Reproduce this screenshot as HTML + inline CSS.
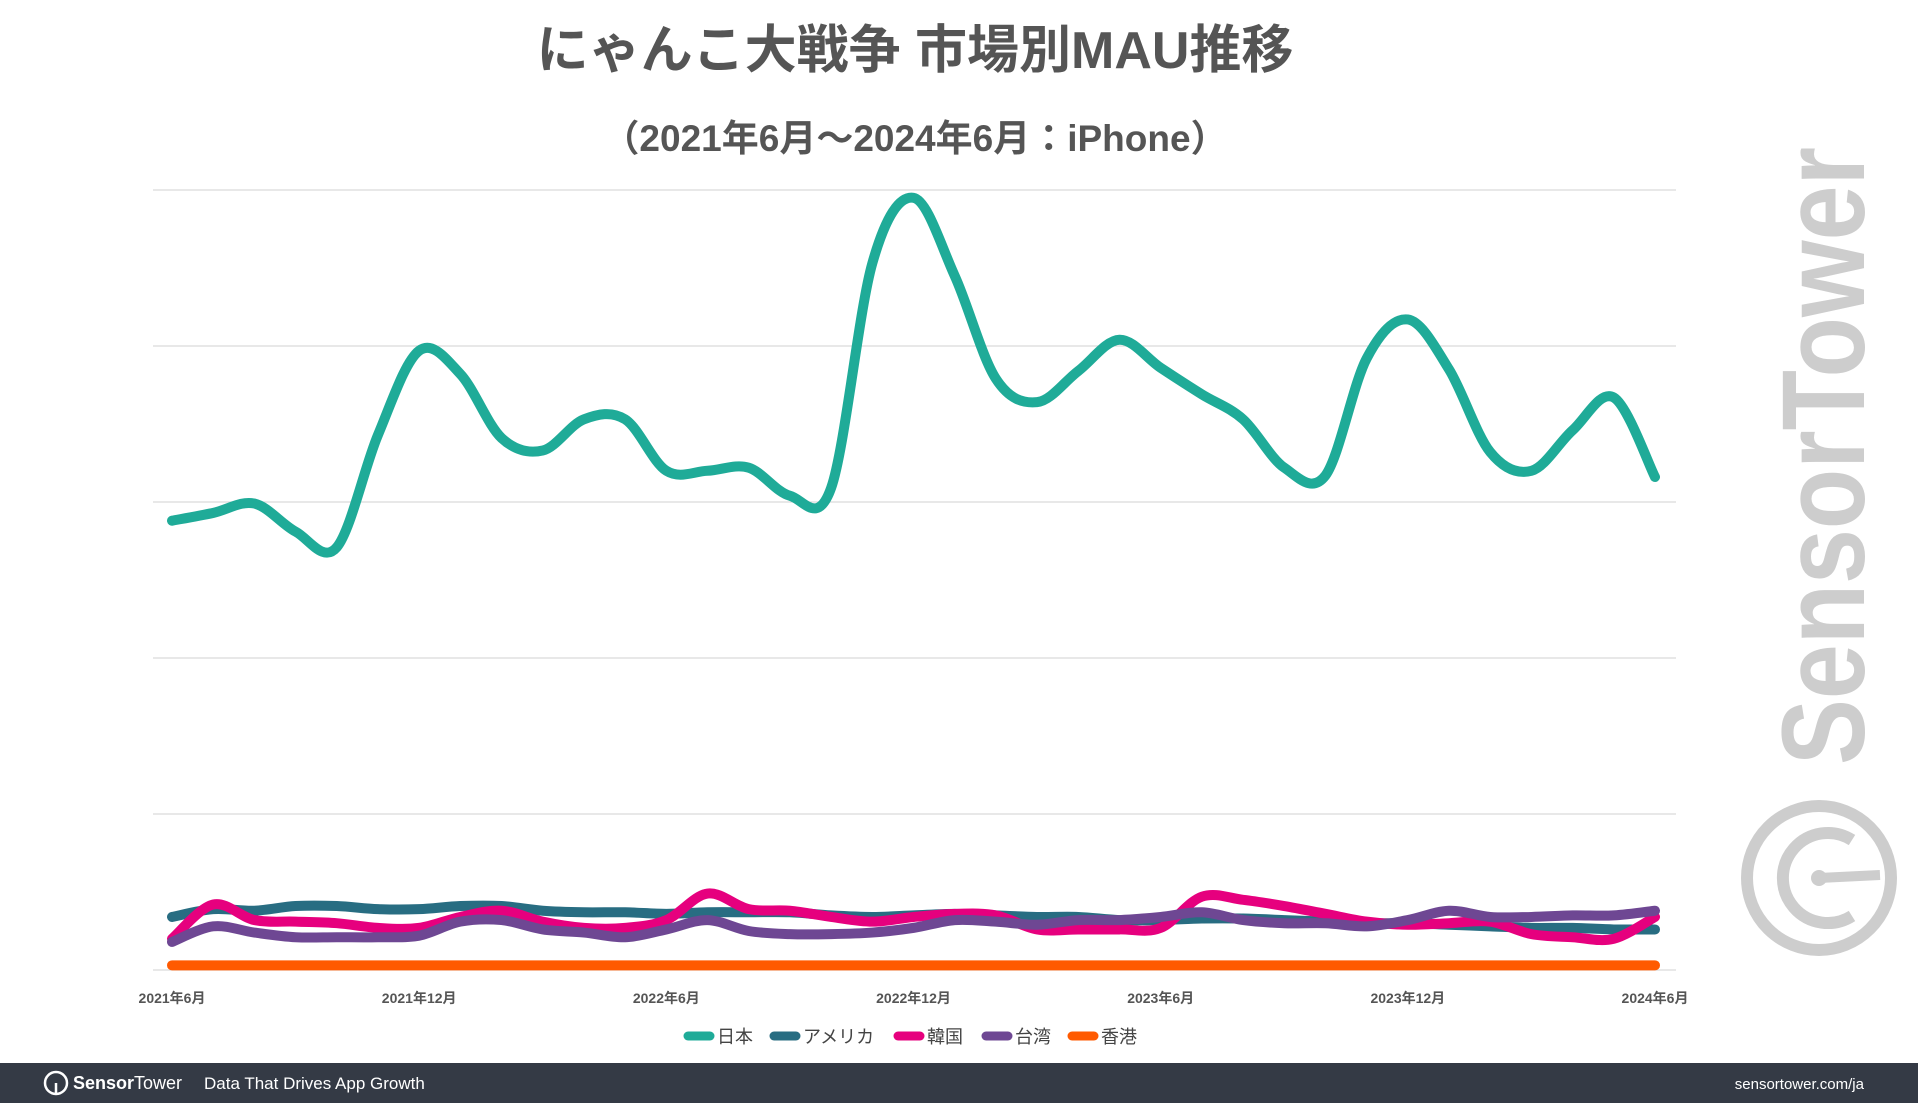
<!DOCTYPE html>
<html><head><meta charset="utf-8">
<style>
html,body{margin:0;padding:0;background:#fff;}
body{width:1918px;height:1103px;position:relative;overflow:hidden;font-family:"Liberation Sans","Noto Sans CJK JP",sans-serif;}
svg text{font-family:"Liberation Sans","Noto Sans CJK JP",sans-serif;}
</style></head>
<body>
<svg id="chart" width="1918" height="1103" viewBox="0 0 1918 1103" xmlns="http://www.w3.org/2000/svg">
  <text x="915" y="68" text-anchor="middle" font-size="52" font-weight="bold" fill="#555">にゃんこ大戦争 市場別MAU推移</text>
  <text x="915" y="151" text-anchor="middle" font-size="37" font-weight="bold" fill="#555">（2021年6月〜2024年6月：iPhone）</text>
  <g id="grid"></g>
  <g id="xticks"></g>
  <g id="series"></g>
  <g id="legend"></g>
  <g fill="#cdcdcd">
    <text transform="translate(1864,765) rotate(-90)" font-size="118" font-weight="bold" textLength="618" lengthAdjust="spacingAndGlyphs">SensorTower</text>
    <circle cx="1819" cy="878" r="72" fill="none" stroke="#cdcdcd" stroke-width="12"/>
    <path d="M1852 840 A45 45 0 1 0 1852 916" fill="none" stroke="#cdcdcd" stroke-width="12"/>
    <line x1="1819" y1="878" x2="1880" y2="875" stroke="#cdcdcd" stroke-width="10"/>
    <circle cx="1819" cy="878" r="8"/>
  </g>
  <rect x="0" y="1063" width="1918" height="40" fill="#343a45"/>
  <g>
    <circle cx="56" cy="1083" r="11" fill="none" stroke="#fff" stroke-width="2.5"/>
    <line x1="56" y1="1083" x2="56" y2="1094" stroke="#fff" stroke-width="2.5"/>
    <text x="73" y="1089" font-size="18" fill="#fff"><tspan font-weight="bold">Sensor</tspan>Tower</text>
  </g>
  <text x="204" y="1089" font-size="17" fill="#fff">Data That Drives App Growth</text>
  <text x="1864" y="1089" text-anchor="end" font-size="15" fill="#fff">sensortower.com/ja</text>
</svg>
<script>
const months = 37;
const tickLabels = ["2021年6月","2021年12月","2022年6月","2022年12月","2023年6月","2023年12月","2024年6月"];
const gridValues = [0,1,2,3,4,5];
const seriesNames = ["日本","アメリカ","韓国","台湾","香港"];
const seriesColors = ["#1fab98","#286d82","#e6007e","#6e4793","#ff5a00"];
const japan = [2.88,2.93,2.99,2.81,2.71,3.43,3.97,3.82,3.41,3.33,3.53,3.53,3.20,3.20,3.22,3.04,3.09,4.53,4.95,4.45,3.79,3.64,3.84,4.04,3.86,3.69,3.53,3.22,3.17,3.92,4.17,3.85,3.32,3.20,3.46,3.67,3.16];
const usa = [0.34,0.39,0.38,0.41,0.41,0.39,0.39,0.41,0.41,0.38,0.37,0.37,0.36,0.37,0.37,0.37,0.35,0.34,0.35,0.36,0.35,0.34,0.34,0.32,0.32,0.33,0.33,0.32,0.31,0.30,0.30,0.29,0.28,0.27,0.27,0.26,0.26];
const korea = [0.20,0.42,0.32,0.31,0.30,0.27,0.27,0.34,0.38,0.31,0.27,0.27,0.32,0.49,0.39,0.38,0.34,0.31,0.34,0.36,0.35,0.26,0.26,0.26,0.27,0.47,0.45,0.41,0.36,0.31,0.29,0.30,0.31,0.23,0.21,0.20,0.34];
const taiwan = [0.18,0.28,0.24,0.21,0.21,0.21,0.22,0.31,0.32,0.26,0.24,0.21,0.26,0.32,0.25,0.23,0.23,0.24,0.27,0.32,0.31,0.29,0.32,0.32,0.34,0.37,0.32,0.30,0.30,0.28,0.32,0.38,0.34,0.34,0.35,0.35,0.38];
const hongkong = [0.03,0.03,0.03,0.03,0.03,0.03,0.03,0.03,0.03,0.03,0.03,0.03,0.03,0.03,0.03,0.03,0.03,0.03,0.03,0.03,0.03,0.03,0.03,0.03,0.03,0.03,0.03,0.03,0.03,0.03,0.03,0.03,0.03,0.03,0.03,0.03,0.03];

const NS="http://www.w3.org/2000/svg";
const X0=172,X1=1655,Y0=970,Y5=190,PL=153,PR=1676;
function xs(i){return X0+(X1-X0)*i/(months-1);}
function ys(v){return Y0-(Y0-Y5)*v/5;}
function mk(t,a){const e=document.createElementNS(NS,t);for(const k in a)e.setAttribute(k,a[k]);return e;}

const grid=document.getElementById('grid');
gridValues.forEach(v=>{
  const l=mk('line',{x1:PL,x2:PR,y1:ys(v),y2:ys(v),stroke:'#d9d9d9','stroke-width':1.3});
  
  
  grid.appendChild(l);
});
const xt=document.getElementById('xticks');
tickLabels.forEach((t,k)=>{
  const e=mk('text',{x:xs(k*6),y:1003,'text-anchor':'middle','font-size':14,'font-weight':'bold',fill:'#555'});
  e.textContent=t;
  
  
  xt.appendChild(e);
});
function smooth(vals){
  const p=vals.map((v,i)=>[xs(i),ys(v)]);
  let d='M'+p[0][0]+' '+p[0][1];
  for(let i=0;i<p.length-1;i++){
    const a=p[Math.max(0,i-1)],b=p[i],c=p[i+1],e=p[Math.min(p.length-1,i+2)];
    const c1=[b[0]+(c[0]-a[0])/6,b[1]+(c[1]-a[1])/6];
    const c2=[c[0]-(e[0]-b[0])/6,c[1]-(e[1]-b[1])/6];
    d+=' C'+c1[0]+' '+c1[1]+' '+c2[0]+' '+c2[1]+' '+c[0]+' '+c[1];
  }
  return d;
}
const all=[japan,usa,korea,taiwan,hongkong];
const order=[4,1,2,3,0];
const sg=document.getElementById('series');
order.forEach(k=>{
  const p=mk('path',{d:smooth(all[k]),fill:'none',stroke:seriesColors[k],'stroke-width':10,'stroke-linecap':'round','stroke-linejoin':'round'});
  
  
  sg.appendChild(p);
});
const lg=document.getElementById('legend');
const lx=[688,774,898,986,1072];
seriesNames.forEach((n,k)=>{
  const g=mk('g',{});
  
  
  g.appendChild(mk('line',{x1:lx[k],x2:lx[k]+22,y1:1036,y2:1036,stroke:seriesColors[k],'stroke-width':9,'stroke-linecap':'round'}));
  const t=mk('text',{x:lx[k]+29,y:1043,'font-size':18,fill:'#444'});
  t.textContent=n;
  g.appendChild(t);
  lg.appendChild(g);
});
</script>
</body></html>
